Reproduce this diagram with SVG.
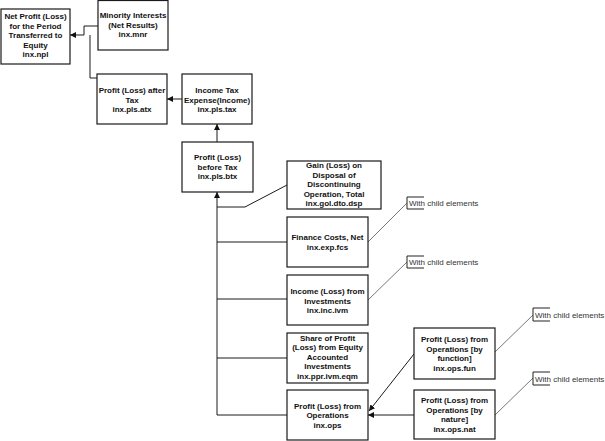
<svg xmlns="http://www.w3.org/2000/svg" width="605" height="441" viewBox="0 0 605 441">
<style>
.box{fill:#fff;stroke:#1a1a1a;stroke-width:1.2}
.t{font-family:"Liberation Sans",Arial,sans-serif;font-size:8px;font-weight:bold;fill:#111;text-anchor:middle}
.c{fill:none;stroke:#1a1a1a;stroke-width:1}
.l{fill:none;stroke:#555;stroke-width:0.8}
.b{fill:none;stroke:#222;stroke-width:1}
.n{font-family:"Liberation Sans",Arial,sans-serif;font-size:8px;fill:#333}
</style>
<defs>
<marker id="ah" viewBox="0 0 10 10" refX="10" refY="5" markerWidth="6" markerHeight="6" markerUnits="userSpaceOnUse" orient="auto">
<path d="M0,0 L10,5 L0,10 Z" fill="#111"/>
</marker>
</defs>
<rect width="605" height="441" fill="#fff"/>
<g id="connectors">
<polyline class="c" points="98,26 84,26 84,35 70,35" marker-end="url(#ah)"/>
<polyline class="c" points="98,78 90,78 90,35"/>
<line class="c" x1="182" y1="99" x2="167" y2="99" marker-end="url(#ah)"/>
<line class="c" x1="217" y1="142" x2="217" y2="124" marker-end="url(#ah)"/>
<polyline class="c" points="287,415 217,415 217,192" marker-end="url(#ah)"/>
<polyline class="c" points="287,185 245,207 217,207"/>
<line class="c" x1="287" y1="242" x2="217" y2="242"/>
<line class="c" x1="287" y1="299" x2="217" y2="299"/>
<line class="c" x1="287" y1="358" x2="217" y2="358"/>
<line class="c" x1="414" y1="354" x2="369" y2="411" marker-end="url(#ah)"/>
<line class="c" x1="414" y1="415" x2="368" y2="415" marker-end="url(#ah)"/>
<line class="l" x1="368" y1="242" x2="407" y2="203"/>
<line class="l" x1="368" y1="300" x2="407" y2="262"/>
<line class="l" x1="495" y1="352" x2="533" y2="315"/>
<line class="l" x1="495" y1="415" x2="533" y2="378"/>
</g>
<g id="npl"><rect class="box" x="1" y="9" width="69" height="55"/>
<text class="t" x="35.5" y="19">Net Profit (Loss)</text><text class="t" x="35.5" y="28.5">for the Period</text><text class="t" x="35.5" y="38">Transferred to</text><text class="t" x="35.5" y="47.5">Equity</text><text class="t" x="35.5" y="57">inx.npl</text></g>
<g id="mnr"><rect class="box" x="98" y="0.5" width="70" height="49.5"/>
<text class="t" x="133" y="18">Minority Interests</text><text class="t" x="133" y="27.5">(Net Results)</text><text class="t" x="133" y="37">inx.mnr</text></g>
<g id="atx"><rect class="box" x="97" y="74" width="70" height="50"/>
<text class="t" x="132" y="93">Profit (Loss) after</text><text class="t" x="132" y="102.5">Tax</text><text class="t" x="132" y="112">inx.pls.atx</text></g>
<g id="tax"><rect class="box" x="182" y="74" width="70" height="50"/>
<text class="t" x="217" y="93">Income Tax</text><text class="t" x="217" y="102.5">Expense(Income)</text><text class="t" x="217" y="112">inx.pls.tax</text></g>
<g id="btx"><rect class="box" x="182" y="142" width="71" height="50"/>
<text class="t" x="217.5" y="160">Profit (Loss)</text><text class="t" x="217.5" y="169.5">before Tax</text><text class="t" x="217.5" y="179">inx.pls.btx</text></g>
<g id="dsp"><rect class="box" x="287" y="161" width="94" height="48"/>
<text class="t" x="334" y="168">Gain (Loss) on</text><text class="t" x="334" y="177.5">Disposal of</text><text class="t" x="334" y="187">Discontinuing</text><text class="t" x="334" y="196.5">Operation, Total</text><text class="t" x="334" y="206">inx.gol.dto.dsp</text></g>
<g id="fcs"><rect class="box" x="287" y="217" width="81" height="50"/>
<text class="t" x="327.5" y="240">Finance Costs, Net</text><text class="t" x="327.5" y="249.5">inx.exp.fcs</text></g>
<g id="ivm"><rect class="box" x="287" y="275" width="81" height="50"/>
<text class="t" x="327.5" y="294">Income (Loss) from</text><text class="t" x="327.5" y="303.5">Investments</text><text class="t" x="327.5" y="313">inx.inc.ivm</text></g>
<g id="eqm"><rect class="box" x="287" y="333" width="81" height="50"/>
<text class="t" x="327.5" y="340.5">Share of Profit</text><text class="t" x="327.5" y="350">(Loss) from Equity</text><text class="t" x="327.5" y="359.5">Accounted</text><text class="t" x="327.5" y="369">Investments</text><text class="t" x="327.5" y="378.5">inx.ppr.ivm.eqm</text></g>
<g id="ops"><rect class="box" x="287" y="390" width="81" height="50"/>
<text class="t" x="327.5" y="408.5">Profit (Loss) from</text><text class="t" x="327.5" y="418">Operations</text><text class="t" x="327.5" y="427.5">inx.ops</text></g>
<g id="fun"><rect class="box" x="414" y="328" width="81" height="51"/>
<text class="t" x="454.5" y="342">Profit (Loss) from</text><text class="t" x="454.5" y="351.5">Operations [by</text><text class="t" x="454.5" y="361">function]</text><text class="t" x="454.5" y="370.5">inx.ops.fun</text></g>
<g id="nat"><rect class="box" x="414" y="390" width="81" height="49"/>
<text class="t" x="454.5" y="403">Profit (Loss) from</text><text class="t" x="454.5" y="412.5">Operations [by</text><text class="t" x="454.5" y="422">nature]</text><text class="t" x="454.5" y="431.5">inx.ops.nat</text></g>
<g id="note1"><path class="b" d="M424,197 H407 V209 H424"/><text class="n" x="409" y="206">With child elements</text></g>
<g id="note2"><path class="b" d="M424,256 H407 V268 H424"/><text class="n" x="409" y="265">With child elements</text></g>
<g id="note3"><path class="b" d="M550,308 H533 V321 H550"/><text class="n" x="535" y="317.5">With child elements</text></g>
<g id="note4"><path class="b" d="M550,372 H533 V385 H550"/><text class="n" x="535" y="381.5">With child elements</text></g>
</svg>
